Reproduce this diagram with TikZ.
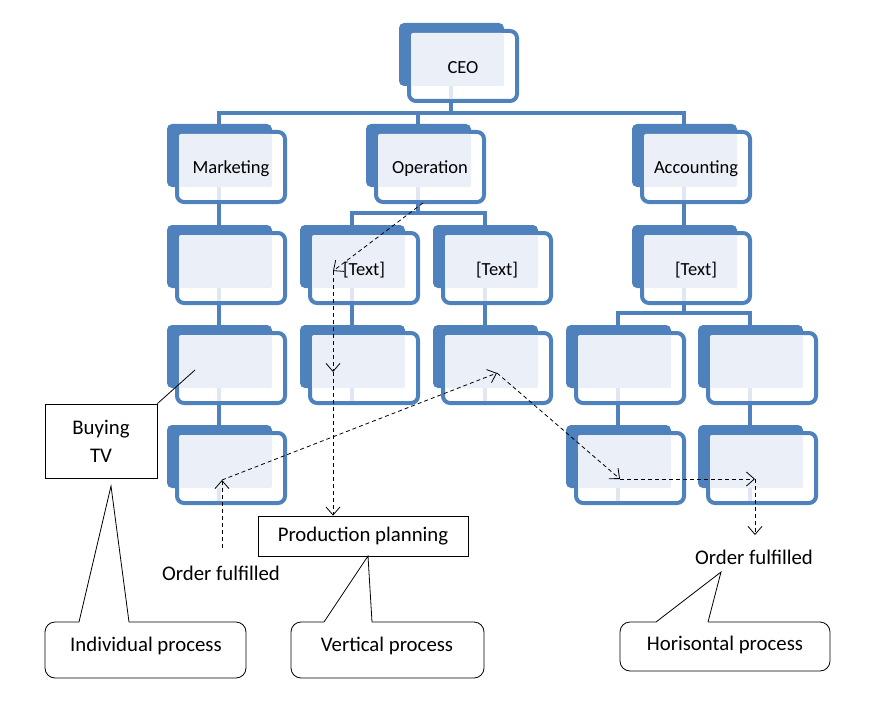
\documentclass[tikz,border=0pt]{standalone}
\usepackage{fontspec}
\setmainfont{Carlito}
\usetikzlibrary{arrows.meta,calc}
\definecolor{ublue}{HTML}{4F81BD}
\definecolor{ulight}{HTML}{EBF0F8}
\definecolor{uthru}{HTML}{E0E7F2}
\tikzset{
  unittext/.style={font=\fontsize{18.5}{22}\selectfont, inner sep=0pt},
  conn/.style={draw=ublue, line width=4pt},
  dasharrow/.style={draw=black, line width=0.8pt, dash pattern=on 4pt off 3pt,
    -{Straight Barb[length=8pt,width=14pt,line width=0.8pt]}},
  calltext/.style={font=\fontsize{20.8}{28}\selectfont, inner sep=0pt},
  boxline/.style={draw=black, line width=0.8pt},
}
\newcommand{\orgunit}[4]{%
\begin{scope}[shift={(#2,#3)}]
 \fill[ublue, rounded corners=5pt] (0,0) rectangle (105,63);
 \draw[ublue, line width=4pt, fill=white, rounded corners=7pt] (10,8) rectangle (118,78);
 \fill[ulight, rounded corners=2pt] (12,10) rectangle (105,63);
 \fill[uthru] (50,63) rectangle (54,76);
 \coordinate (#1-t) at (52,0);
 \coordinate (#1-b) at (52,80);
 \node[unittext] (#1) at (64,45) {#4};
\end{scope}}
\begin{document}
\begin{tikzpicture}[x=1pt,y=-1pt]
\useasboundingbox (0,0) rectangle (869,714);
\fill[white] (0,0) rectangle (869,714);

% units
\orgunit{ceo}{399}{23}{CEO}
\orgunit{mkt}{167}{124}{Marketing}
\orgunit{ops}{366}{124}{Operation}
\orgunit{acc}{632}{124}{Accounting}
\orgunit{mktA}{167}{225}{}
\orgunit{opsA}{300}{225}{[Text]}
\orgunit{opsB}{433}{225}{[Text]}
\orgunit{accA}{632}{225}{[Text]}
\orgunit{mktB}{167}{325}{}
\orgunit{opsAA}{300}{325}{}
\orgunit{opsBA}{433}{325}{}
\orgunit{accAA}{566}{325}{}
\orgunit{accAB}{698}{325}{}
\orgunit{mktC}{167}{425}{}
\orgunit{accAAA}{566}{425}{}
\orgunit{accABA}{698}{425}{}

% connectors
\coordinate (bus0) at (451,113);
\draw[conn] (ceo-b) -- (bus0);
\draw[conn] (mkt-t) |- (bus0) -| (acc-t);
\draw[conn] (bus0) -| (ops-t);
\coordinate (bus1) at (418,213);
\draw[conn] (ops-b) -- (bus1);
\draw[conn] (opsA-t) |- (bus1) -| (opsB-t);
\draw[conn] (opsA-b) -- (opsAA-t);
\draw[conn] (opsB-b) -- (opsBA-t);
\draw[conn] (mkt-b) -- (mktA-t);
\draw[conn] (mktA-b) -- (mktB-t);
\draw[conn] (mktB-b) -- (mktC-t);
\draw[conn] (acc-b) -- (accA-t);
\coordinate (bus2) at (684,313);
\draw[conn] (accA-b) -- (bus2);
\draw[conn] (accAA-t) |- (bus2) -| (accAB-t);
\draw[conn] (accAA-b) -- (accAAA-t);
\draw[conn] (accAB-b) -- (accABA-t);

% Buying TV
\node[boxline, calltext, minimum width=112pt, minimum height=74pt, align=center] (buy) at (101,441) {Buying\\TV};
\coordinate (buyend) at (195,370);
\draw[boxline] (buy.north east) -- (buyend);

% Production planning
\node[boxline, calltext, minimum width=210pt, minimum height=40pt] (pp) at (363,536) {Production planning};

% Order fulfilled texts
\node[calltext] (of1) at (221,573) {Order fulfilled};
\node[calltext] (of2) at (754,557) {Order fulfilled};

% dashed arrows: vertical process
\coordinate (d1) at (423,203);
\coordinate (d2) at (333,271);
\coordinate (d3) at (333,372);
\draw[dasharrow] (d1) -- (d2);
\draw[dasharrow] (d2) -- (d3);
\draw[dasharrow] (d3) -- (d3 |- pp.north);

% dashed arrows: horizontal process
\coordinate (e0) at (222,548);
\coordinate (e1) at (222,480);
\coordinate (e2) at (497,373);
\coordinate (e3) at (620,479);
\coordinate (e4) at (755,479);
\coordinate (e5) at (755,535);
\draw[dasharrow] (e0) -- (e1);
\draw[dasharrow] (e1) -- (e2);
\draw[dasharrow] (e2) -- (e3);
\draw[dasharrow] (e3) -- (e4);
\draw[dasharrow] (e4) -- (e5);

% callouts
\node[calltext] (ip) at (146,646) {Individual process};
\coordinate (ipA) at (111,486);
\draw[boxline] (79,622) -- (ipA) -- (129,622);
\draw[boxline, rounded corners=10pt] (129,622) -- (246,622) -- (246,678) -- (45,678) -- (45,622) -- (79,622);

\node[calltext] (vp) at (387,646) {Vertical process};
\coordinate (vpA) at (368,556);
\draw[boxline] (324,622) -- (vpA) -- (372,622);
\draw[boxline, rounded corners=10pt] (372,622) -- (484,622) -- (484,678) -- (291,678) -- (291,622) -- (324,622);

\node[calltext] (hp) at (725,645) {Horisontal process};
\coordinate (hpA) at (721,572);
\draw[boxline] (656,622) -- (hpA) -- (708,622);
\draw[boxline, rounded corners=10pt] (708,622) -- (830,622) -- (830,671) -- (620,671) -- (620,622) -- (656,622);
\end{tikzpicture}
\end{document}
